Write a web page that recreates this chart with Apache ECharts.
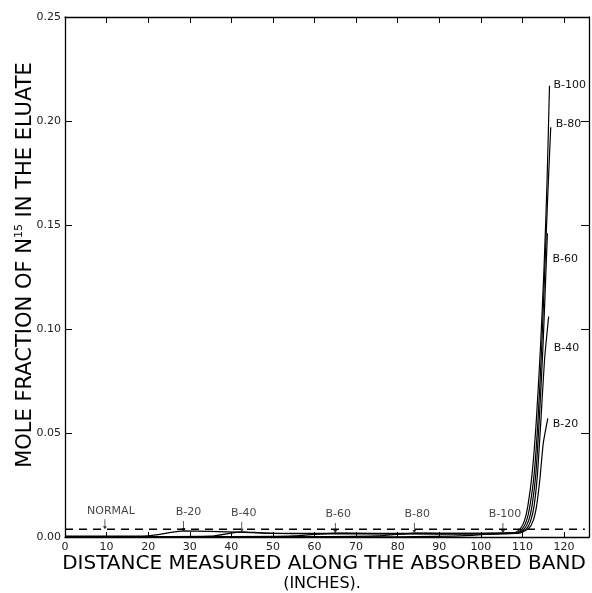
<!DOCTYPE html>
<html><head><meta charset="utf-8">
<script src="https://cdn.jsdelivr.net/npm/echarts@6/dist/echarts.min.js"></script>
<style>html,body{margin:0;padding:0;background:#fff}#c{width:592px;height:593px}</style>
</head><body><div id="c"></div>
<script>
// ---- data ----
const seriesNames = ['B-20', 'B-40', 'B-60', 'B-80', 'B-100'];
const b20 = [[0,0.0004],[10,0.0004],[20,0.0006],[28.5,0.0029],[35,0.0027],[42,0.0023],[50,0.0017],[60,0.0016],[70,0.0015],[80,0.0015],[90,0.0014],[100,0.0014],[106,0.0015],[109.5,0.002],[111.5,0.004],[112.6,0.008],[113.4,0.015],[114.2,0.028],[115,0.045],[116.1,0.057]];
const b40 = [[0,0.0002],[20,0.0002],[35,0.0004],[42.5,0.0025],[48,0.0019],[60,0.0018],[70,0.0017],[80,0.0016],[90,0.0016],[100,0.0016],[106,0.0017],[109,0.002],[111,0.004],[112,0.008],[112.8,0.015],[113.6,0.03],[114.4,0.055],[115.3,0.085],[116.3,0.106]];
const b60 = [[0,0.0002],[40,0.0002],[55,0.0005],[65,0.0019],[70,0.0018],[80,0.0017],[90,0.0017],[100,0.0017],[106,0.0018],[109,0.002],[110.5,0.004],[111.5,0.008],[112.3,0.015],[113.2,0.03],[114,0.055],[114.9,0.09],[115.5,0.12],[116,0.146]];
const b80 = [[0,0.0001],[55,0.0001],[75,0.0005],[84,0.0019],[90,0.0018],[100,0.0018],[106,0.0019],[108.5,0.002],[110,0.004],[111,0.008],[111.8,0.015],[112.8,0.03],[113.7,0.055],[114.6,0.09],[115.4,0.13],[116.1,0.165],[116.8,0.197]];
const b100 = [[0,0.0001],[80,0.0001],[98,0.0008],[105.3,0.0019],[108,0.002],[109.5,0.004],[110.5,0.008],[111.3,0.015],[112.3,0.03],[113.3,0.055],[114.3,0.09],[115.2,0.13],[115.9,0.17],[116.5,0.217]];
const seriesData = [b20, b40, b60, b80, b100];
const normalX = [0, 125];
const normalY = [0.0037, 0.0037];
const markerNames = ['NORMAL', 'B-20', 'B-40', 'B-60', 'B-80', 'B-100'];
const markerX = [9.6, 28.5, 42.5, 65, 84, 105.3];
const markerY = [0.0037, 0.0029, 0.0025, 0.0019, 0.0019, 0.0019];
const xMin = 0, xMax = 126, xStep = 10;
const yMin = 0, yMax = 0.25, yStep = 0.05;

// ---- style / layout ----
const FONT = '"DejaVu Sans", sans-serif';
const endLabelOffsets = {'B-20':[1,6], 'B-40':[1,32], 'B-60':[1,26], 'B-80':[1,-3], 'B-100':[0,0]};
const markerLabelOffsets = [[6,0],[5,0],[2,0],[3,0],[3,0],[2,0]];

const chart = echarts.init(document.getElementById('c'), null, {renderer:'canvas'});

const lineSeries = seriesNames.map((name, i) => ({
  name: name,
  type: 'line',
  data: seriesData[i],
  showSymbol: false,
  smooth: 0.2,
  lineStyle: {color:'#000', width:1.2},
  z: 3,
  endLabel: {
    show: true, formatter: '{a}', color:'#111', fontSize: 11, fontFamily: FONT,
    distance: 4, offset: endLabelOffsets[name]
  },
  animation: false
}));

const option = {
  backgroundColor: '#fff',
  animation: false,
  grid: {left: 65, right: 3, top: 17, bottom: 56},
  xAxis: [{
    type: 'value', min: xMin, max: xMax, interval: xStep,
    axisLine: {show: true, lineStyle: {color:'#000', width:1.3}},
    axisTick: {show: true, inside: true, length: 5, lineStyle:{color:'#000'}},
    splitLine: {show: false},
    axisLabel: {color:'#222', fontSize: 11, fontFamily: FONT, margin: 5,
      formatter: v => (v % xStep === 0 ? String(v) : '')}
  }, {
    type: 'value', min: xMin, max: xMax, interval: xStep, position: 'top',
    axisLine: {show: true, onZero:false, lineStyle: {color:'#000', width:1.3}},
    axisTick: {show: true, inside: true, length: 6, lineStyle:{color:'#000'}},
    splitLine: {show: false}, axisLabel: {show: false}
  }],
  yAxis: [{
    type: 'value', min: yMin, max: yMax, interval: yStep,
    axisLine: {show: true, lineStyle: {color:'#000', width:1.3}},
    axisTick: {show: true, inside: true, length: 7, lineStyle:{color:'#000'}},
    splitLine: {show: false},
    axisLabel: {color:'#222', fontSize: 11, fontFamily: FONT, margin: 4,
      formatter: v => v.toFixed(2)}
  }, {
    type: 'value', min: yMin, max: yMax, interval: yStep, position: 'right',
    axisLine: {show: true, onZero:false, lineStyle: {color:'#000', width:1.3}},
    axisTick: {show: true, inside: true, length: 8, lineStyle:{color:'#000'}},
    splitLine: {show: false}, axisLabel: {show: false}
  }],
  series: [
    ...lineSeries,
    {
      name: 'NORMAL-line', type: 'line',
      data: normalX.map((x, i) => [x, normalY[i]]),
      showSymbol: false,
      lineStyle: {color:'#000', width:1.5, type:[8,6]},
      z: 2
    },
    {
      name: 'markers', type: 'scatter',
      data: markerX.map((x, i) => ({
        value: [x, markerY[i]],
        label: {offset: markerLabelOffsets[i]}
      })),
      symbol: 'path://M1.6,0 L2.4,0 L2.4,7 L4,7 L2,10 L0,7 L1.6,7 Z',
      symbolSize: [4, 10],
      symbolOffset: [0, -5],
      itemStyle: {color:'#000'},
      label: {
        show: true, position: 'top', distance: 3,
        color:'#111', fontSize: 11, fontFamily: FONT,
        formatter: p => markerNames[p.dataIndex]
      },
      z: 4
    }
  ],
  graphic: [
    {
      type: 'text', x: 324, y: 564,
      style: {text: 'DISTANCE MEASURED ALONG THE ABSORBED BAND',
        font: '20px "DejaVu Sans"', fill:'#000', align:'center', verticalAlign:'middle'}
    },
    {
      type: 'text', x: 322, y: 584,
      style: {text: '(INCHES).',
        font: '16px "DejaVu Sans"', fill:'#000', align:'center', verticalAlign:'middle'}
    },
    {
      type: 'text', x: 26, y: 265, rotation: Math.PI / 2,
      style: {
        text: 'MOLE FRACTION OF N{sup|15} IN THE ELUATE',
        font: '21px "DejaVu Sans"', fill:'#000', align:'center', verticalAlign:'middle',
        lineHeight: 24,
        rich: {sup: {fontSize: 11, fontFamily: FONT, fill:'#000', verticalAlign:'top', lineHeight: 24}}
      }
    }
  ]
};
chart.setOption(option);
</script>
</body></html>
